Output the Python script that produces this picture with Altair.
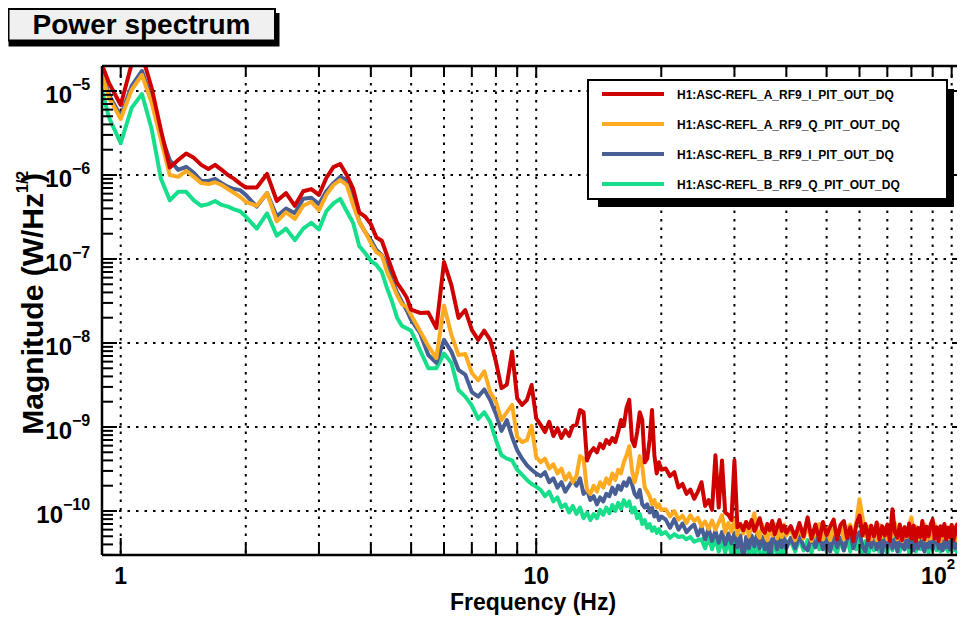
import altair as alt
import pandas as pd

# ---------------- data ----------------
FREQ = [
    0.875, 0.9375, 1.0, 1.0625, 1.125, 1.1875, 1.25, 1.3125, 1.375, 1.4375,
    1.5, 1.5625, 1.625, 1.6875, 1.75, 1.8125, 1.875, 1.9375, 2.0,
    2.125, 2.25, 2.375, 2.5, 2.625, 2.75, 2.875, 3.0, 3.125, 3.25, 3.375, 3.5,
    3.625, 3.75, 3.875, 4.0, 4.125, 4.25, 4.375, 4.5, 4.625, 4.75, 4.875, 5.0,
    5.25, 5.5, 5.75, 6.0, 6.25, 6.5, 6.75, 7.0, 7.25, 7.5, 7.75, 8.0, 8.25, 8.5,
    8.75, 9.0, 9.25, 9.5, 9.75, 10.0,
    10.25, 10.5, 10.75, 11.0, 11.25, 11.5, 11.75, 12.0, 12.25, 12.5,
    12.75, 13.0, 13.25, 13.5, 13.75, 14.0, 14.25, 14.5, 14.75, 15.0,
    15.25, 15.5, 15.75, 16.0, 16.25, 16.5, 16.75, 17.0, 17.25, 17.5,
    17.75, 18.0, 18.25, 18.5, 18.75, 19.0, 19.25, 19.5, 19.75, 20.0,
    20.5, 21, 21.5, 22, 22.5, 23, 23.5, 24, 24.5, 25, 25.5, 26, 26.5, 27, 27.5,
    28, 28.5, 29, 29.5, 30, 30.5, 31, 31.5, 32, 32.5, 33, 33.5, 34, 34.5, 35,
    35.5, 36, 36.5, 37, 37.5, 38, 38.5, 39, 39.5, 40,
    41, 42, 43, 44, 45, 46, 47, 48, 49, 50, 51, 52, 53, 54, 55, 56, 57, 58, 59,
    60, 61, 62, 63, 64, 65, 66, 67, 68, 69, 70, 71, 72, 73, 74, 75, 76, 77, 78,
    79, 80, 81, 82, 83, 84, 85, 86, 87, 88, 89, 90, 91, 92, 93, 94, 95, 96, 97,
    98, 99, 100, 101, 102, 103, 104, 105, 106, 107, 108,
]

RED = [
    3.0e-5, 1.24e-5, 6.8e-6, 2.1e-5, 2.7e-5, 1.08e-5, 3.4e-6, 1.23e-6, 1.51e-6, 1.8e-6,
    1.6e-6, 1.32e-6, 1.18e-6, 1.32e-6, 1.15e-6, 1.0e-6, 9.0e-7, 7.9e-7, 7.1e-7,
    7.1e-7, 1.03e-6, 4.9e-7, 6.1e-7, 4.3e-7, 6.4e-7, 6.8e-7, 5.8e-7, 9.2e-7, 1.24e-6,
    1.35e-6, 1.0e-6, 6.9e-7, 3.6e-7, 3.2e-7, 2.6e-7, 1.8e-7, 1.65e-7, 1.1e-7, 7.4e-8,
    5.2e-8, 4.3e-8, 3.5e-8, 2.5e-8,
    2.28e-8, 2.3e-8, 1.51e-8, 9.2e-8, 4.9e-8, 1.99e-8, 2.47e-8, 1.43e-8, 1.09e-8, 1.4e-8,
    1.09e-8, 6.0e-9, 2.9e-9, 3.2e-9, 7.9e-9, 2.2e-9, 1.83e-9, 2.1e-9, 3.16e-9, 1.27e-9,
    1.06e-9, 8.7e-10, 1.15e-9, 7.8e-10, 9.7e-10, 7.4e-10, 9.2e-10, 7.8e-10, 1.03e-9, 1.06e-9,
    1.59e-9, 1.5e-9, 4.0e-10, 5.0e-10, 5.6e-10, 5.0e-10, 6.3e-10, 5.6e-10, 7.0e-10, 6.3e-10,
    7.4e-10, 6.6e-10, 8.7e-10, 1.21e-9, 1.03e-9, 1.7e-9, 2.1e-9, 7.0e-10, 5.9e-10, 8.7e-10,
    1.5e-9, 1.21e-9, 3.8e-10, 4.2e-10, 7.0e-10, 1.59e-9, 4.6e-10, 2.8e-10, 3.8e-10, 3.1e-10,
    3.2e-10, 2.6e-10, 2.9e-10, 1.9e-10, 2.1e-10, 1.6e-10, 1.8e-10, 1.4e-10, 1.7e-10, 2.2e-10,
    1.15e-10, 1.35e-10, 1.03e-10, 4.6e-10, 1.1e-10, 4.0e-10, 9.6e-11, 9.0e-11, 7.8e-11, 4.0e-10,
    6.4e-11, 7.0e-11, 5.9e-11, 7.4e-11, 6.3e-11, 7.8e-11, 5.8e-11, 6.8e-11, 8.2e-11, 6.1e-11,
    5.5e-11, 7.0e-11, 5.9e-11, 7.6e-11, 5.3e-11, 6.4e-11, 7.8e-11, 5.8e-11, 6.6e-11, 5.5e-11,
    6.6e-11, 4.9e-11, 7.2e-11, 5.0e-11, 8.4e-11, 4.7e-11, 6.9e-11, 4.5e-11, 7.4e-11, 5.2e-11,
    6.5e-11, 7.9e-11, 4.6e-11, 6.8e-11, 7.6e-11, 4.8e-11, 6.4e-11, 4.4e-11, 7.0e-11, 8.8e-11,
    5.1e-11, 7.0e-11, 4.5e-11, 6.7e-11, 5.0e-11, 7.3e-11, 4.6e-11, 6.6e-11, 5.1e-11, 6.9e-11,
    4.4e-11, 1.05e-10, 5.6e-11, 4.8e-11, 6.9e-11, 4.5e-11, 6.4e-11, 5.0e-11, 7.1e-11, 4.7e-11,
    6.7e-11, 4.4e-11, 6.3e-11, 4.9e-11, 7.6e-11, 4.6e-11, 6.5e-11, 5.0e-11, 6.9e-11, 7.9e-11,
    4.7e-11, 6.4e-11, 4.4e-11, 6.6e-11, 5.1e-11, 7.0e-11, 4.6e-11, 6.3e-11, 4.9e-11, 6.8e-11,
    4.5e-11, 6.2e-11, 6.9e-11, 4.7e-11, 6.4e-11, 4.9e-11, 6.6e-11, 5.0e-11,
]

ORANGE = [
    2.5e-5, 8.3e-6, 4.65e-6, 1.03e-5, 1.55e-5, 7.2e-6, 2.6e-6, 1.0e-6, 9.5e-7, 1.12e-6,
    9.5e-7, 8.0e-7, 7.8e-7, 8.2e-7, 7.6e-7, 6.8e-7, 6.1e-7, 5.5e-7, 4.8e-7,
    4.3e-7, 6.1e-7, 2.8e-7, 3.6e-7, 3.0e-7, 4.3e-7, 4.8e-7, 3.8e-7, 5.8e-7, 7.6e-7,
    8.7e-7, 7.6e-7, 4.4e-7, 2.8e-7, 2.1e-7, 1.55e-7, 1.2e-7, 1.1e-7, 7.0e-8, 5.1e-8,
    3.7e-8, 2.9e-8, 2.7e-8, 2.15e-8,
    1.4e-8, 9.2e-9, 6.6e-9, 2.8e-8, 1.25e-8, 7.2e-9, 7.4e-9, 4.4e-9, 3.6e-9, 4.6e-9,
    2.6e-9, 2.0e-9, 1.21e-9, 1.5e-9, 1.83e-9, 7.6e-10, 6.6e-10, 7.0e-10, 1.03e-9, 4.4e-10,
    3.8e-10, 4.2e-10, 3.2e-10, 3.6e-10, 2.8e-10, 3.2e-10, 2.34e-10, 2.8e-10, 2.2e-10, 2.6e-10,
    4.5e-10, 4.2e-10, 1.78e-10, 1.6e-10, 2.0e-10, 1.7e-10, 2.2e-10, 1.9e-10, 2.45e-10, 2.1e-10,
    2.8e-10, 2.34e-10, 3.1e-10, 2.8e-10, 3.8e-10, 4.6e-10, 5.9e-10, 3.1e-10, 2.2e-10, 2.9e-10,
    4.5e-10, 3.4e-10, 1.9e-10, 1.7e-10, 1.5e-10, 1.2e-10, 1.35e-10, 1.1e-10, 1.2e-10, 1.03e-10,
    1.05e-10, 8.6e-11, 1.0e-10, 7.9e-11, 8.8e-11, 7.2e-11, 8.9e-11, 7.6e-11, 8.3e-11, 6.6e-11,
    7.5e-11, 6.1e-11, 7.7e-11, 6.0e-11, 7.3e-11, 8.9e-11, 5.6e-11, 7.2e-11, 5.7e-11, 7.9e-11,
    5.2e-11, 7.0e-11, 5.4e-11, 7.4e-11, 5.0e-11, 6.8e-11, 9.4e-11, 5.5e-11, 4.8e-11, 6.9e-11,
    5.3e-11, 4.5e-11, 6.7e-11, 5.1e-11, 7.0e-11, 4.7e-11, 6.5e-11, 4.9e-11, 6.9e-11, 5.1e-11,
    6.0e-11, 4.5e-11, 6.3e-11, 4.7e-11, 6.7e-11, 4.4e-11, 6.0e-11, 7.0e-11, 4.6e-11, 6.2e-11,
    4.5e-11, 6.4e-11, 4.8e-11, 6.6e-11, 4.6e-11, 6.1e-11, 6.9e-11, 4.7e-11, 7.6e-11, 1.38e-10,
    8.4e-11, 5.0e-11, 6.5e-11, 4.6e-11, 6.2e-11, 4.5e-11, 6.8e-11, 4.9e-11, 6.3e-11, 4.6e-11,
    6.6e-11, 5.0e-11, 7.1e-11, 4.6e-11, 6.1e-11, 4.4e-11, 6.4e-11, 4.9e-11, 6.7e-11, 8.4e-11,
    5.1e-11, 6.5e-11, 4.6e-11, 6.2e-11, 4.8e-11, 6.9e-11, 4.5e-11, 6.1e-11, 4.7e-11, 6.3e-11,
    7.0e-11, 4.6e-11, 6.1e-11, 4.4e-11, 6.4e-11, 4.8e-11, 6.5e-11, 4.7e-11, 6.2e-11, 6.8e-11,
    4.6e-11, 6.0e-11, 4.5e-11, 6.3e-11, 4.9e-11, 6.5e-11, 4.7e-11, 6.1e-11,
]

BLUE = [
    2.7e-5, 9.0e-6, 5.0e-6, 1.15e-5, 1.73e-5, 7.8e-6, 3.0e-6, 1.5e-6, 1.15e-6, 1.25e-6,
    1.06e-6, 8.5e-7, 8.5e-7, 9.0e-7, 8.0e-7, 7.2e-7, 6.8e-7, 6.6e-7, 5.8e-7,
    4.2e-7, 6.1e-7, 3.2e-7, 4.0e-7, 3.5e-7, 5.2e-7, 5.35e-7, 4.5e-7, 6.4e-7, 8.0e-7,
    9.5e-7, 8.7e-7, 5.35e-7, 2.8e-7, 2.1e-7, 1.68e-7, 1.28e-7, 1.12e-7, 8.3e-8, 5.6e-8,
    4.0e-8, 3.1e-8, 2.47e-8, 1.88e-8,
    1.32e-8, 7.2e-9, 5.8e-9, 1.09e-8, 7.9e-9, 4.8e-9, 4.2e-9, 2.6e-9, 2.3e-9, 2.8e-9,
    2.1e-9, 1.43e-9, 9.0e-10, 1.21e-9, 7.6e-10, 5.3e-10, 4.2e-10, 3.5e-10, 3.1e-10, 2.8e-10,
    2.6e-10, 2.9e-10, 2.2e-10, 2.45e-10, 1.9e-10, 2.2e-10, 1.7e-10, 2.0e-10, 2.34e-10, 2.0e-10,
    2.45e-10, 1.6e-10, 1.78e-10, 1.35e-10, 1.5e-10, 1.2e-10, 1.45e-10, 1.3e-10, 1.6e-10, 1.5e-10,
    1.9e-10, 1.6e-10, 2.0e-10, 1.78e-10, 2.2e-10, 2.0e-10, 2.45e-10, 2.1e-10, 1.6e-10, 1.45e-10,
    1.78e-10, 1.2e-10, 1.1e-10, 1.2e-10, 9.6e-11, 1.1e-10, 8.6e-11, 9.6e-11, 7.8e-11, 8.6e-11,
    7.9e-11, 6.3e-11, 8.0e-11, 6.0e-11, 7.1e-11, 5.6e-11, 6.3e-11, 6.9e-11, 5.1e-11, 6.4e-11,
    4.6e-11, 6.2e-11, 4.4e-11, 5.8e-11, 4.2e-11, 5.6e-11, 4.0e-11, 5.4e-11, 4.1e-11, 5.5e-11,
    3.7e-11, 5.1e-11, 2.5e-11, 4.9e-11, 3.6e-11, 5.1e-11, 3.8e-11, 5.3e-11, 3.6e-11, 4.9e-11,
    3.5e-11, 4.8e-11, 2.5e-11, 4.7e-11, 5.1e-11, 3.5e-11, 4.9e-11, 3.7e-11, 5.0e-11, 3.6e-11,
    4.8e-11, 3.6e-11, 5.1e-11, 3.8e-11, 3.4e-11, 4.9e-11, 3.7e-11, 5.2e-11, 3.5e-11, 4.7e-11,
    3.3e-11, 5.0e-11, 3.7e-11, 4.8e-11, 3.4e-11, 4.6e-11, 5.3e-11, 3.6e-11, 4.9e-11, 5.6e-11,
    3.8e-11, 3.3e-11, 4.8e-11, 3.7e-11, 5.1e-11, 3.5e-11, 4.7e-11, 3.2e-11, 4.9e-11, 3.7e-11,
    5.2e-11, 3.6e-11, 4.6e-11, 3.3e-11, 5.0e-11, 3.8e-11, 3.5e-11, 4.9e-11, 3.7e-11, 5.1e-11,
    3.4e-11, 4.7e-11, 3.6e-11, 5.0e-11, 3.8e-11, 3.3e-11, 4.8e-11, 3.7e-11, 5.2e-11, 3.5e-11,
    4.6e-11, 5.0e-11, 3.6e-11, 4.8e-11, 3.4e-11, 4.7e-11, 3.7e-11, 5.1e-11, 3.5e-11, 4.9e-11,
    3.8e-11, 3.6e-11, 5.0e-11, 3.7e-11, 4.8e-11, 3.5e-11, 4.7e-11, 3.8e-11,
]

GREEN = [
    1.78e-5, 4.8e-6, 2.4e-6, 6.3e-6, 9.2e-6, 3.5e-6, 9.0e-7, 5.0e-7, 6.3e-7, 6.3e-7,
    5.0e-7, 4.3e-7, 4.5e-7, 4.9e-7, 4.4e-7, 4.2e-7, 3.9e-7, 3.7e-7, 3.2e-7,
    2.3e-7, 3.5e-7, 1.9e-7, 2.3e-7, 1.68e-7, 2.3e-7, 2.7e-7, 2.25e-7, 3.7e-7, 4.6e-7,
    5.2e-7, 3.7e-7, 2.7e-7, 1.43e-7, 1.18e-7, 9.5e-8, 8.5e-8, 7.0e-8, 4.5e-8, 3.1e-8,
    2.0e-8, 1.6e-8, 1.5e-8, 1.4e-8,
    8.3e-9, 5.0e-9, 5.0e-9, 7.5e-9, 5.8e-9, 2.76e-9, 2.3e-9, 1.8e-9, 1.25e-9, 1.5e-9,
    1.15e-9, 7.0e-10, 4.6e-10, 4.2e-10, 4.0e-10, 3.1e-10, 2.7e-10, 2.34e-10, 2.1e-10, 1.95e-10,
    1.78e-10, 1.5e-10, 1.7e-10, 1.3e-10, 1.45e-10, 1.1e-10, 1.2e-10, 9.6e-11, 1.15e-10, 9.2e-11,
    1.1e-10, 8.2e-11, 9.6e-11, 7.8e-11, 9.2e-11, 8.2e-11, 1.03e-10, 9.0e-11, 1.1e-10, 9.4e-11,
    1.18e-10, 1.0e-10, 1.25e-10, 1.06e-10, 1.35e-10, 1.15e-10, 1.3e-10, 9.6e-11, 1.1e-10, 8.2e-11,
    9.2e-11, 7.0e-11, 7.8e-11, 6.3e-11, 7.0e-11, 5.8e-11, 6.4e-11, 5.5e-11, 6.1e-11, 5.3e-11,
    5.6e-11, 4.8e-11, 5.3e-11, 4.9e-11, 5.0e-11, 4.6e-11, 4.9e-11, 4.3e-11, 4.5e-11, 4.6e-11,
    3.6e-11, 4.8e-11, 3.5e-11, 4.9e-11, 3.3e-11, 4.5e-11, 3.2e-11, 4.4e-11, 3.1e-11, 4.3e-11,
    3.0e-11, 4.2e-11, 3.1e-11, 4.4e-11, 3.0e-11, 4.1e-11, 2.9e-11, 4.3e-11, 3.1e-11, 2.8e-11,
    4.1e-11, 3.0e-11, 4.2e-11, 3.1e-11, 4.4e-11, 3.2e-11, 2.9e-11, 4.2e-11, 3.1e-11, 4.3e-11,
    4.4e-11, 3.3e-11, 4.7e-11, 3.4e-11, 4.5e-11, 3.2e-11, 4.8e-11, 3.5e-11, 4.6e-11, 3.3e-11,
    4.9e-11, 3.6e-11, 3.2e-11, 4.5e-11, 3.4e-11, 4.7e-11, 3.3e-11, 5.0e-11, 3.5e-11, 4.6e-11,
    3.2e-11, 4.4e-11, 2.9e-11, 4.8e-11, 3.4e-11, 4.5e-11, 3.3e-11, 4.9e-11, 3.5e-11, 3.2e-11,
    4.6e-11, 3.4e-11, 4.8e-11, 3.6e-11, 3.3e-11, 4.7e-11, 3.5e-11, 4.5e-11, 3.2e-11, 4.9e-11,
    3.6e-11, 3.3e-11, 4.6e-11, 3.5e-11, 4.8e-11, 3.4e-11, 4.4e-11, 3.2e-11, 4.7e-11, 3.6e-11,
    5.0e-11, 3.4e-11, 4.5e-11, 3.3e-11, 4.8e-11, 3.5e-11, 4.6e-11, 3.3e-11, 4.4e-11, 4.9e-11,
    3.4e-11, 4.5e-11, 3.2e-11, 4.7e-11, 3.5e-11, 4.6e-11, 3.3e-11, 4.4e-11,
]

CHANNELS = [
    "H1:ASC-REFL_A_RF9_I_PIT_OUT_DQ",
    "H1:ASC-REFL_A_RF9_Q_PIT_OUT_DQ",
    "H1:ASC-REFL_B_RF9_I_PIT_OUT_DQ",
    "H1:ASC-REFL_B_RF9_Q_PIT_OUT_DQ",
]
COLORS = ["#cf0000", "#ffab21", "#485f96", "#17de8a"]
SERIES = [RED, ORANGE, BLUE, GREEN]

X_MIN, X_MAX = 0.9015, 108.26
Y_MIN, Y_MAX = 2.993e-11, 1.984e-5
X_MAJOR = [1, 10, 100]
X_MINOR = [2, 3, 4, 5, 6, 7, 8, 9, 20, 30, 40, 50, 60, 70, 80, 90]
X_LABELS = ["1", "10", "10"]
X_EXP = ["", "", "2"]
Y_MAJOR = [1e-5, 1e-6, 1e-7, 1e-8, 1e-9, 1e-10]
Y_EXP = ["\u22125", "\u22126", "\u22127", "\u22128", "\u22129", "\u221210"]
Y_MULT = [2, 3, 4, 5, 6, 7, 8, 9]
Y_MINOR = [m * d for d in [1e-11, 1e-10, 1e-9, 1e-8, 1e-7, 1e-6] for m in Y_MULT]
Y_MINOR = [v for v in Y_MINOR if Y_MIN <= v <= Y_MAX]

for s in SERIES:
    assert len(s) == len(FREQ), (len(s), len(FREQ))

# ---------------- chart ----------------
W, H = 864, 489
FONT = "Liberation Sans"
XS = alt.Scale(type="log", domain=[X_MIN, X_MAX], nice=False)
YS = alt.Scale(type="log", domain=[Y_MIN, Y_MAX], nice=False)


def xe(field="f"):
    return alt.X(f"{field}:Q", scale=XS, axis=None)


def ye(field="v"):
    return alt.Y(f"{field}:Q", scale=YS, axis=None)


def txt(**kw):
    base = dict(font=FONT, fontWeight="bold", color="black", baseline="alphabetic")
    base.update(kw)
    return base


one = pd.DataFrame({"k": [0]})
layers = []

# dotted grid
DOT = dict(color="black", strokeWidth=2, strokeDash=[2.5, 6])
layers.append(
    alt.Chart(pd.DataFrame({"f": X_MAJOR + X_MINOR})).mark_rule(**DOT)
    .encode(x=xe(), y=alt.value(0), y2=alt.value(H))
)
layers.append(
    alt.Chart(pd.DataFrame({"v": Y_MAJOR})).mark_rule(**DOT)
    .encode(y=ye(), x=alt.value(0), x2=alt.value(W))
)

# spectra (green, blue, orange, red so red is on top)
for vals, col in reversed(list(zip(SERIES, COLORS))):
    layers.append(
        alt.Chart(pd.DataFrame({"f": FREQ, "v": vals}))
        .mark_line(color=col, strokeWidth=4, clip=True, strokeJoin="round")
        .encode(x=xe(), y=ye())
    )

# frame (left, top, bottom)
for enc in [
    dict(x=alt.value(0), y=alt.value(0), y2=alt.value(H)),
    dict(x=alt.value(0), x2=alt.value(W + 2), y=alt.value(0)),
    dict(x=alt.value(0), x2=alt.value(W + 2), y=alt.value(H)),
]:
    layers.append(alt.Chart(one).mark_rule(color="black", strokeWidth=2.5).encode(**enc))


def vticks(vals, y0, y1):
    return (
        alt.Chart(pd.DataFrame({"f": vals})).mark_rule(color="black", strokeWidth=2)
        .encode(x=xe(), y=alt.value(y0), y2=alt.value(y1))
    )


def hticks(vals, x0, x1):
    return (
        alt.Chart(pd.DataFrame({"v": vals})).mark_rule(color="black", strokeWidth=2)
        .encode(y=ye(), x=alt.value(x0), x2=alt.value(x1))
    )


layers += [
    vticks(X_MAJOR, H, H - 17), vticks(X_MINOR, H, H - 11),
    vticks(X_MAJOR, 0, 12), vticks(X_MINOR, 0, 9),
    hticks(Y_MAJOR, 0, 15), hticks(Y_MINOR, 0, 11),
    hticks(Y_MAJOR, W, W - 12), hticks(Y_MINOR, W, W - 9),
]

# y tick labels: "10" with a raised exponent
ylab = pd.DataFrame({"v": Y_MAJOR, "t": ["10"] * len(Y_MAJOR), "e": Y_EXP})
for sub, anchor in [(ylab.iloc[:5], -30), (ylab.iloc[5:], -39)]:
    layers.append(
        alt.Chart(sub).mark_text(**txt(align="right", dy=12, fontSize=24))
        .encode(y=ye(), x=alt.value(anchor), text="t:N")
    )
    layers.append(
        alt.Chart(sub).mark_text(**txt(align="left", dy=-1, fontSize=16))
        .encode(y=ye(), x=alt.value(anchor), text="e:N")
    )

# x tick labels
xlab = pd.DataFrame({"f": X_MAJOR, "t": X_LABELS, "e": X_EXP})
layers.append(
    alt.Chart(xlab.iloc[:2]).mark_text(**txt(align="center", fontSize=23))
    .encode(x=xe(), y=alt.value(H + 28.5), text="t:N")
)
layers.append(
    alt.Chart(xlab.iloc[2:]).mark_text(**txt(align="right", dx=-5, fontSize=23))
    .encode(x=xe(), y=alt.value(H + 28.5), text="t:N")
)
layers.append(
    alt.Chart(xlab.iloc[2:]).mark_text(**txt(align="left", dx=-5, fontSize=15))
    .encode(x=xe(), y=alt.value(H + 14), text="e:N")
)

# axis titles
layers.append(
    alt.Chart(one).mark_text(**txt(align="center", fontSize=23))
    .encode(x=alt.value(431), y=alt.value(H + 54.5), text=alt.value("Frequency (Hz)"))
)
layers.append(
    alt.Chart(one).mark_text(**txt(align="right", angle=270, fontSize=30))
    .encode(x=alt.value(-58.7), y=alt.value(127), text=alt.value("Magnitude (W/Hz"))
)
layers.append(
    alt.Chart(one).mark_text(**txt(align="left", angle=270, fontSize=16))
    .encode(x=alt.value(-74), y=alt.value(127), text=alt.value("1/2"))
)
layers.append(
    alt.Chart(one).mark_text(**txt(align="left", angle=270, fontSize=30))
    .encode(x=alt.value(-58.7), y=alt.value(117), text=alt.value(")"))
)

# title box with shadow
layers.append(
    alt.Chart(one).mark_rect(color="black")
    .encode(x=alt.value(-93.5), x2=alt.value(177.5), y=alt.value(-53), y2=alt.value(-19.5))
)
layers.append(
    alt.Chart(one).mark_rect(fill="#f0f0f0", stroke="black", strokeWidth=2)
    .encode(x=alt.value(-93.5), x2=alt.value(173), y=alt.value(-57), y2=alt.value(-25.5))
)
layers.append(
    alt.Chart(one).mark_text(**txt(align="center", fontSize=28))
    .encode(x=alt.value(39.5), y=alt.value(-32.5), text=alt.value("Power spectrum"))
)

# legend with shadow
layers.append(
    alt.Chart(one).mark_rect(color="black")
    .encode(x=alt.value(496), x2=alt.value(852), y=alt.value(23), y2=alt.value(141))
)
layers.append(
    alt.Chart(one).mark_rect(fill="white", stroke="black", strokeWidth=2)
    .encode(x=alt.value(486), x2=alt.value(845), y=alt.value(14), y2=alt.value(133))
)
for i, (name, col) in enumerate(zip(CHANNELS, COLORS)):
    yy = 28 + 30 * i
    layers.append(
        alt.Chart(one).mark_rule(color=col, strokeWidth=4)
        .encode(x=alt.value(500), x2=alt.value(562), y=alt.value(yy))
    )
    layers.append(
        alt.Chart(one).mark_text(**txt(align="left", baseline="middle", fontSize=12))
        .encode(x=alt.value(575), y=alt.value(yy + 1), text=alt.value(name))
    )

chart = (
    alt.layer(*layers)
    .properties(
        width=W,
        height=H,
        padding={"left": 94, "top": 58, "right": -9, "bottom": 60},
        autosize=alt.AutoSizeParams(type="none"),
    )
    .configure_view(stroke="transparent")
)

chart.save("out.html", embed_options={"renderer": "svg", "actions": False})
